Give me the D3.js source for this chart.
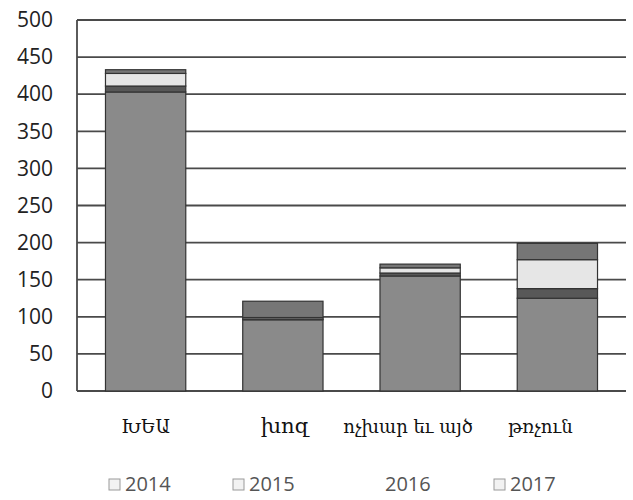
<!DOCTYPE html>
<html><head><meta charset="utf-8">
<script src="https://cdn.jsdelivr.net/npm/d3@7"></script>
<style>body{margin:0;background:#fff}</style>
</head><body>
<svg id="c" width="633" height="500"></svg>
<script>
const categories = ["ԽԵԱ", "խոզ", "ոչխար եւ այծ", "թռչուն"];
const years = ["2014", "2015", "2016", "2017"];
const v2014 = [403, 96, 155, 125];
const v2015 = [8, 1, 4, 13];
const v2016 = [17, 2, 7, 39];
const v2017 = [5, 22, 5, 22];
const yTicks = [0, 50, 100, 150, 200, 250, 300, 350, 400, 450, 500];

const seriesVals = [v2014, v2015, v2016, v2017];
const fills = ["#8a8a8a", "#585858", "#e6e6e6", "#767676"];
const legendFill = ["#f2f2f2", "#f2f2f2", "#ffffff", "#f2f2f2"];
const legendStroke = ["#9a9a9a", "#9a9a9a", "none", "#9a9a9a"];
const labelDx = [0, 2, -12, -17];
const labelSize = [18, 21, 18, 18];

const rows = categories.map((c, i) => {
  const r = {cat: c};
  years.forEach((y, j) => r[y] = seriesVals[j][i]);
  return r;
});
const stack = d3.stack().keys(years)(rows);

const svg = d3.select("#c");
const L = 77, R = 626, T = 20, B = 391;
const x = d3.scaleBand().domain(categories).range([L, R]).paddingInner(0.415).paddingOuter(0.2075);
const y = d3.scaleLinear().domain([0, 500]).range([B, T]);

// gridlines
svg.append("g").selectAll("line").data(yTicks).join("line")
  .attr("x1", L).attr("x2", R)
  .attr("y1", d => y(d)).attr("y2", d => y(d))
  .attr("stroke", "#4a4a4a").attr("stroke-width", 1.8);
svg.append("line").attr("x1", L).attr("x2", L).attr("y1", T).attr("y2", B)
  .attr("stroke", "#4a4a4a").attr("stroke-width", 1.8);

// y axis labels
const yAxis = d3.axisLeft(y).tickValues(yTicks).tickSize(0).tickPadding(0);
const ga = svg.append("g").attr("transform", `translate(53,0)`).call(yAxis);
ga.select(".domain").remove();
ga.selectAll("text").attr("font-family", "Open Sans, sans-serif").attr("font-size", 21)
  .attr("fill", "#222");

// bars
svg.append("g").selectAll("g").data(stack).join("g")
  .attr("fill", (d, i) => fills[i])
  .selectAll("rect").data(d => d).join("rect")
  .attr("x", d => x(d.data.cat))
  .attr("width", x.bandwidth())
  .attr("y", d => y(d[1]))
  .attr("height", d => y(d[0]) - y(d[1]))
  .attr("stroke", "#333").attr("stroke-width", 1.2);

// category labels
svg.append("g").selectAll("text").data(categories).join("text")
  .attr("x", (d, i) => x(d) + x.bandwidth() / 2 + labelDx[i])
  .attr("y", 433)
  .attr("text-anchor", "middle")
  .attr("font-family", "DejaVu Serif, serif").attr("font-size", (d, i) => labelSize[i])
  .attr("fill", "#111")
  .text(d => d);

// legend
const lx = [109, 233, 369, 494];
const lg = svg.append("g").selectAll("g").data(years).join("g")
  .attr("transform", (d, i) => `translate(${lx[i]},479)`);
lg.append("rect").attr("x", 0).attr("y", 0).attr("width", 11).attr("height", 11)
  .attr("fill", (d, i) => legendFill[i]).attr("stroke", (d, i) => legendStroke[i]).attr("stroke-width", 1);
lg.append("text").attr("x", 16).attr("y", 12).attr("font-family", "Open Sans, sans-serif")
  .attr("font-size", 20).attr("fill", "#555").text(d => d);
</script>
</body></html>
